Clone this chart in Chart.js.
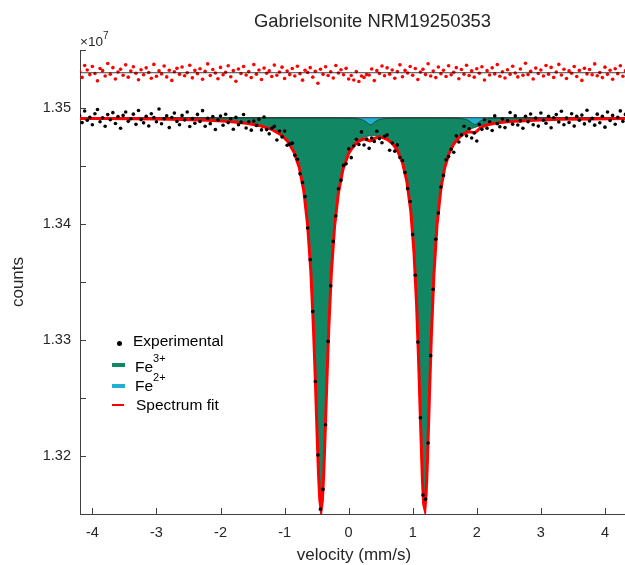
<!DOCTYPE html>
<html>
<head>
<meta charset="utf-8">
<title>Gabrielsonite NRM19250353</title>
<script src="https://cdn.jsdelivr.net/npm/chart.js@4.4.0/dist/chart.umd.min.js"></script>
<style>
  html, body { margin: 0; padding: 0; background: #fff; }
  #wrap { position: relative; width: 625px; height: 565px; overflow: hidden;
          font-family: 'Liberation Sans', Arial, sans-serif; color: #262626; }
  canvas { position: absolute; left: 0; top: 0; }
  .lbl { position: absolute; white-space: nowrap; }
  .leg { font-size: 15.5px; line-height: 18px; color: #000; }
  .sp  { font-size: 11px; position: relative; top: -10px; }
</style>
</head>
<body>
<div id="wrap">
  <canvas id="chart" width="625" height="565"></canvas>

  <div class="lbl" style="left:372.5px;top:12px;font-size:18.4px;line-height:18px;transform:translateX(-50%)">Gabrielsonite NRM19250353</div>
  <div class="lbl" style="left:80px;top:35px;font-size:13.5px;line-height:13.5px">&times;10<span style="font-size:10px;position:relative;top:-7px">7</span></div>
  <div class="lbl" style="left:18px;top:282px;font-size:17px;transform:translate(-50%,-50%) rotate(-90deg)">counts</div>
  <div class="lbl" style="left:354px;top:555px;font-size:17px;transform:translate(-50%,-50%)">velocity (mm/s)</div>

  <!-- legend -->
  <div class="lbl" style="left:117px;top:341px;width:5px;height:5px;border-radius:50%;background:#000"></div>
  <div class="lbl leg" style="left:133px;top:332px">Experimental</div>
  <div class="lbl" style="left:112px;top:363px;width:13px;height:4px;background:#128764"></div>
  <div class="lbl leg" style="left:135px;top:358px">Fe<span class="sp">3+</span></div>
  <div class="lbl" style="left:112px;top:384px;width:13px;height:4px;background:#21b0d1"></div>
  <div class="lbl leg" style="left:135px;top:377px">Fe<span class="sp">2+</span></div>
  <div class="lbl" style="left:112px;top:404px;width:12px;height:1.5px;background:#ff0000"></div>
  <div class="lbl leg" style="left:136px;top:396px">Spectrum fit</div>
</div>

<script>
/* ── Axis ranges / ticks ── */
const X_MIN = -4.193, X_MAX = 4.313;
const Y_MIN = 1.315,  Y_MAX = 1.355;
const xTickValues = [-4, -3, -2, -1, 0, 1, 2, 3, 4];
const yTickValues = [1.32, 1.325, 1.33, 1.335, 1.34, 1.345, 1.35, 1.355];
const yTickLabels = ['1.32', '', '1.33', '', '1.34', '', '1.35', ''];

const BASELINE   = 1.34916;   // top of the component areas
const RESID_ZERO = 1.35304;   // offset line of the residuals

const FE3_GREEN = '#128764';
const FE2_BLUE  = '#21b0d1';

/* ── Experimental channels (counts x 1e7) ── */
const velocity = [-4.2,-4.16,-4.12,-4.08,-4.04,-4,-3.96,-3.92,-3.88,-3.84,-3.8,-3.76,-3.72,-3.68,-3.64,-3.6,-3.56,-3.52,-3.48,-3.44,-3.4,-3.36,-3.32,-3.28,-3.24,-3.2,-3.16,-3.12,-3.08,-3.04,-3,-2.96,-2.92,-2.88,-2.84,-2.8,-2.76,-2.72,-2.68,-2.64,-2.6,-2.56,-2.52,-2.48,-2.44,-2.4,-2.36,-2.32,-2.28,-2.24,-2.2,-2.16,-2.12,-2.08,-2.04,-2,-1.96,-1.92,-1.88,-1.84,-1.8,-1.76,-1.72,-1.68,-1.64,-1.6,-1.56,-1.52,-1.48,-1.44,-1.4,-1.36,-1.32,-1.28,-1.24,-1.2,-1.16,-1.12,-1.08,-1.04,-1,-0.96,-0.92,-0.88,-0.84,-0.8,-0.76,-0.72,-0.68,-0.64,-0.6,-0.56,-0.52,-0.48,-0.44,-0.4,-0.36,-0.32,-0.28,-0.24,-0.2,-0.16,-0.12,-0.08,-0.04,0,0.04,0.08,0.12,0.16,0.2,0.24,0.28,0.32,0.36,0.4,0.44,0.48,0.52,0.56,0.6,0.64,0.68,0.72,0.76,0.8,0.84,0.88,0.92,0.96,1,1.04,1.08,1.12,1.16,1.2,1.24,1.28,1.32,1.36,1.4,1.44,1.48,1.52,1.56,1.6,1.64,1.68,1.72,1.76,1.8,1.84,1.88,1.92,1.96,2,2.04,2.08,2.12,2.16,2.2,2.24,2.28,2.32,2.36,2.4,2.44,2.48,2.52,2.56,2.6,2.64,2.68,2.72,2.76,2.8,2.84,2.88,2.92,2.96,3,3.04,3.08,3.12,3.16,3.2,3.24,3.28,3.32,3.36,3.4,3.44,3.48,3.52,3.56,3.6,3.64,3.68,3.72,3.76,3.8,3.84,3.88,3.92,3.96,4,4.04,4.08,4.12,4.16,4.2,4.24,4.28,4.32];

const counts = [
  1.34934,1.34874,1.34974,1.34894,1.34920,1.34856,1.34951,1.34987,1.34881,1.34915,
  1.34843,1.34943,1.34899,1.34960,1.34866,1.34926,1.34826,1.34936,1.34966,1.34885,
  1.34907,1.34947,1.34859,1.34978,1.34900,1.34872,1.34928,1.34845,1.34951,1.34917,
  1.34881,1.34992,1.34864,1.34907,1.34933,1.34831,1.34918,1.34956,1.34883,1.34855,
  1.34936,1.34896,1.34965,1.34841,1.34908,1.34868,1.34945,1.34884,1.34977,1.34843,
  1.34912,1.34865,1.34926,1.34815,1.34896,1.34930,1.34851,1.34946,1.34874,1.34907,
  1.34817,1.34919,1.34855,1.34878,1.34944,1.34827,1.34882,1.34809,1.34887,1.34849,
  1.34902,1.34811,1.34923,1.34814,1.34777,1.34826,1.34842,1.34724,1.34802,1.34751,
  1.34801,1.34679,1.34689,1.34697,1.34592,1.34558,1.34433,1.34358,1.34236,1.33965,
  1.33693,1.33245,1.32642,1.32009,1.31542,1.31712,1.32270,1.32988,1.33467,1.33850,
  1.34069,1.34304,1.34378,1.34505,1.34519,1.34648,1.34572,1.34672,1.34731,1.34685,
  1.34794,1.34681,1.34732,1.34652,1.34741,1.34712,1.34800,1.34736,1.34700,1.34755,
  1.34768,1.34636,1.34698,1.34628,1.34682,1.34573,1.34547,1.34444,1.34305,1.34194,
  1.33910,1.33558,1.32982,1.32330,1.31663,1.31628,1.32112,1.32865,1.33437,1.33869,
  1.34094,1.34319,1.34419,1.34553,1.34581,1.34644,1.34618,1.34760,1.34707,1.34768,
  1.34843,1.34760,1.34821,1.34742,1.34784,1.34716,1.34857,1.34816,1.34899,1.34826,
  1.34882,1.34806,1.34932,1.34865,1.34838,1.34905,1.34831,1.34891,1.34961,1.34860,
  1.34932,1.34854,1.34889,1.34825,1.34928,1.34881,1.34948,1.34855,1.34914,1.34844,
  1.34957,1.34894,1.34868,1.34929,1.34830,1.34916,1.34943,1.34879,1.34972,1.34856,
  1.34913,1.34875,1.34951,1.34844,1.34928,1.34895,1.34939,1.34863,1.34981,1.34888,
  1.34912,1.34852,1.34947,1.34873,1.34929,1.34835,1.34965,1.34892,1.34936,1.34860,
  1.34920,1.34975,1.34885,1.34945
];

const residuals = [
  1.35314,1.35264,1.35366,1.35328,1.35288,1.35358,1.35298,1.35234,1.35340,1.35322,
  1.35276,1.35384,1.35292,1.35348,1.35250,1.35310,1.35334,1.35282,1.35372,1.35266,
  1.35318,1.35356,1.35300,1.35244,1.35330,1.35286,1.35346,1.35306,1.35256,1.35376,
  1.35274,1.35320,1.35294,1.35362,1.35268,1.35326,1.35238,1.35312,1.35342,1.35290,
  1.35354,1.35278,1.35304,1.35368,1.35260,1.35324,1.35296,1.35338,1.35248,1.35316,
  1.35380,1.35280,1.35332,1.35302,1.35252,1.35350,1.35286,1.35308,1.35364,1.35270,
  1.35322,1.35230,1.35336,1.35298,1.35358,1.35284,1.35314,1.35262,1.35374,1.35292,
  1.35328,1.35246,1.35344,1.35300,1.35320,1.35272,1.35370,1.35282,1.35310,1.35352,
  1.35254,1.35318,1.35288,1.35340,1.35276,1.35360,1.35296,1.35240,1.35326,1.35306,
  1.35348,1.35266,1.35316,1.35214,1.35334,1.35290,1.35356,1.35280,1.35312,1.35258,
  1.35366,1.35302,1.35330,1.35286,1.35342,1.35250,1.35280,1.35242,1.35314,1.35228,
  1.35276,1.35264,1.35288,1.35284,1.35336,1.35236,1.35322,1.35298,1.35362,1.35278,
  1.35346,1.35292,1.35328,1.35256,1.35314,1.35372,1.35270,1.35324,1.35302,1.35358,
  1.35282,1.35340,1.35246,1.35310,1.35334,1.35288,1.35382,1.35276,1.35318,1.35262,
  1.35354,1.35296,1.35326,1.35272,1.35364,1.35286,1.35308,1.35348,1.35252,1.35332,
  1.35292,1.35368,1.35280,1.35320,1.35266,1.35338,1.35300,1.35356,1.35242,1.35322,
  1.35284,1.35346,1.35294,1.35374,1.35274,1.35312,1.35258,1.35330,1.35290,1.35360,
  1.35302,1.35268,1.35336,1.35282,1.35386,1.35288,1.35316,1.35250,1.35344,1.35298,
  1.35328,1.35276,1.35366,1.35292,1.35350,1.35264,1.35310,1.35376,1.35284,1.35334,
  1.35254,1.35320,1.35300,1.35358,1.35272,1.35324,1.35238,1.35342,1.35294,1.35332,
  1.35286,1.35380,1.35278,1.35306,1.35262,1.35352,1.35290,1.35326,1.35248,1.35338,
  1.35296,1.35364,1.35274,1.35322
];

/* ── Fitted curves ── */
const fitVelocity = [-4.2,-3.8,-3.4,-3.0,-2.6,-2.2,-1.9,-1.6,-1.4,-1.2,-1.05,-0.95,-0.85,-0.77,-0.70,-0.64,-0.59,-0.55,-0.52,-0.49,-0.47,-0.45,-0.43,-0.41,-0.39,-0.37,-0.34,-0.31,-0.27,-0.22,-0.16,-0.09,0,0.08,0.16,0.22,0.27,0.31,0.34,0.37,0.41,0.46,0.52,0.60,0.68,0.76,0.84,0.91,0.97,1.02,1.06,1.09,1.12,1.15,1.17,1.19,1.21,1.23,1.26,1.29,1.33,1.38,1.44,1.50,1.57,1.64,1.71,1.78,1.84,1.89,1.93,1.97,2.01,2.05,2.10,2.17,2.26,2.4,2.6,2.9,3.3,3.8,4.35];

const fitTotal = [
  1.34910,1.34909,1.34907,1.34905,1.34900,1.34894,1.34885,1.34869,1.34850,1.34816,
  1.34768,1.34712,1.34617,1.34485,1.34284,1.33988,1.33587,1.33110,1.32660,1.32142,
  1.31835,1.31616,1.31535,1.31615,1.31833,1.32139,1.32644,1.33103,1.33579,1.33978,
  1.34268,1.34469,1.34608,1.34676,1.34715,1.34730,1.34730,1.34720,1.34716,1.34725,
  1.34738,1.34750,1.34747,1.34730,1.34696,1.34636,1.34529,1.34362,1.34109,1.33751,
  1.33307,1.32852,1.32315,1.31804,1.31586,1.31540,1.31678,1.31961,1.32502,1.33021,
  1.33559,1.33998,1.34307,1.34487,1.34613,1.34690,1.34739,1.34773,1.34790,1.34795,
  1.34790,1.34787,1.34805,1.34826,1.34842,1.34855,1.34866,1.34877,1.34886,1.34895,
  1.34902,1.34906,1.34909
];

const fitFe3 = [
  1.34910,1.34909,1.34907,1.34905,1.34900,1.34894,1.34885,1.34869,1.34850,1.34816,
  1.34768,1.34712,1.34617,1.34485,1.34284,1.33988,1.33587,1.33110,1.32660,1.32142,
  1.31835,1.31616,1.31535,1.31615,1.31833,1.32139,1.32644,1.33103,1.33579,1.33978,
  1.34269,1.34470,1.34610,1.34679,1.34721,1.34741,1.34752,1.34758,1.34761,1.34763,
  1.34760,1.34761,1.34753,1.34733,1.34698,1.34637,1.34530,1.34363,1.34110,1.33752,
  1.33308,1.32853,1.32316,1.31805,1.31587,1.31541,1.31679,1.31962,1.32503,1.33022,
  1.33560,1.33999,1.34308,1.34488,1.34614,1.34692,1.34742,1.34778,1.34800,1.34814,
  1.34824,1.34832,1.34839,1.34846,1.34852,1.34860,1.34868,1.34878,1.34887,1.34895,
  1.34902,1.34906,1.34909
];

const fitFe2 = [
  1.34916,1.34916,1.34916,1.34916,1.34916,1.34916,1.34916,1.34916,1.34916,1.34916,
  1.34916,1.34916,1.34916,1.34916,1.34916,1.34916,1.34916,1.34916,1.34916,1.34916,
  1.34916,1.34916,1.34916,1.34916,1.34916,1.34916,1.34916,1.34916,1.34916,1.34916,
  1.34915,1.34914,1.34913,1.34911,1.34906,1.34897,1.34882,1.34863,1.34856,1.34863,
  1.34882,1.34897,1.34906,1.34911,1.34913,1.34914,1.34915,1.34915,1.34915,1.34915,
  1.34915,1.34915,1.34915,1.34915,1.34915,1.34915,1.34915,1.34915,1.34915,1.34915,
  1.34915,1.34915,1.34915,1.34914,1.34914,1.34913,1.34911,1.34907,1.34900,1.34886,
  1.34868,1.34856,1.34868,1.34886,1.34900,1.34908,1.34912,1.34914,1.34915,1.34916,
  1.34916,1.34916,1.34916
];

/* ── Helpers ── */
const pts = (xs, ys) => xs.slice(0, ys.length).map((x, i) => ({ x, y: ys[i] }));

/* ── Inward tick marks (MATLAB style) ── */
const inwardTicks = {
  id: 'inwardTicks',
  afterDraw(chart) {
    const { ctx, chartArea: a, scales: { x, y } } = chart;
    ctx.save();
    ctx.strokeStyle = '#404040';
    ctx.lineWidth = 1;
    ctx.beginPath();
    xTickValues.forEach(v => {
      const px = Math.round(x.getPixelForValue(v)) + 0.5;
      ctx.moveTo(px, a.bottom);
      ctx.lineTo(px, a.bottom - 6);
    });
    yTickValues.forEach(v => {
      const py = Math.round(y.getPixelForValue(v)) + 0.5;
      ctx.moveTo(a.left, py);
      ctx.lineTo(a.left + 6, py);
    });
    ctx.stroke();
    ctx.restore();
  }
};

Chart.defaults.font.family = "'Liberation Sans', Arial, sans-serif";
Chart.defaults.font.size   = 14.5;
Chart.defaults.color       = '#262626';

new Chart(document.getElementById('chart'), {
  type: 'scatter',
  data: {
    datasets: [
      {
        label: 'Fe3+',
        data: pts(fitVelocity, fitFe3),
        showLine: true,
        borderColor: '#222',
        borderWidth: 0.6,
        backgroundColor: FE3_GREEN,
        fill: { value: BASELINE },
        pointRadius: 0,
        order: 7
      },
      {
        label: 'Fe2+',
        data: pts(fitVelocity, fitFe2),
        showLine: true,
        borderColor: '#222',
        borderWidth: 0.6,
        backgroundColor: FE2_BLUE,
        fill: { value: BASELINE },
        pointRadius: 0,
        order: 6
      },
      {
        label: 'baseline',
        data: [{ x: X_MIN, y: BASELINE }, { x: X_MAX, y: BASELINE }],
        showLine: true,
        borderColor: '#111',
        borderWidth: 0.8,
        pointRadius: 0,
        order: 5
      },
      {
        label: 'Spectrum fit',
        data: pts(fitVelocity, fitTotal),
        showLine: true,
        borderColor: '#ff0000',
        borderWidth: 3,
        pointRadius: 0,
        order: 4
      },
      {
        label: 'Experimental',
        data: pts(velocity, counts),
        pointRadius: 1.8,
        pointBackgroundColor: '#000',
        pointBorderWidth: 0,
        order: 3
      },
      {
        label: 'Residual',
        data: pts(velocity, residuals),
        pointRadius: 1.8,
        pointBackgroundColor: '#ff0000',
        pointBorderWidth: 0,
        order: 2
      },
      {
        label: 'Residual zero',
        data: [{ x: X_MIN, y: RESID_ZERO }, { x: X_MAX, y: RESID_ZERO }],
        showLine: true,
        borderColor: '#111',
        borderWidth: 0.8,
        pointRadius: 0,
        order: 1
      }
    ]
  },
  options: {
    responsive: false,
    maintainAspectRatio: false,
    devicePixelRatio: 1,
    animation: false,
    layout: { autoPadding: false, padding: { top: 50, left: 0, right: 0, bottom: 0 } },
    plugins: {
      legend: { display: false },
      tooltip: { enabled: false },
      title: { display: false }
    },
    scales: {
      x: {
        type: 'linear',
        min: X_MIN,
        max: X_MAX,
        afterFit: s => { s.height = 51; s.paddingLeft = 0; s.paddingRight = 0; },
        afterBuildTicks: s => { s.ticks = xTickValues.map(v => ({ value: v })); },
        grid: { color: 'rgba(0,0,0,0)', drawTicks: false },
        border: { display: true, color: '#404040', width: 1 },
        ticks: { padding: 10, callback: v => String(v), maxRotation: 0 }
      },
      y: {
        type: 'linear',
        min: Y_MIN,
        max: Y_MAX,
        afterFit: s => { s.width = 80; s.paddingTop = 0; s.paddingBottom = 0; },
        afterBuildTicks: s => { s.ticks = yTickValues.map(v => ({ value: v })); },
        grid: { color: 'rgba(0,0,0,0)', drawTicks: false },
        border: { display: true, color: '#404040', width: 1 },
        ticks: { padding: 9, callback: (v, i) => yTickLabels[i] }
      }
    }
  },
  plugins: [inwardTicks]
});
</script>
</body>
</html>
